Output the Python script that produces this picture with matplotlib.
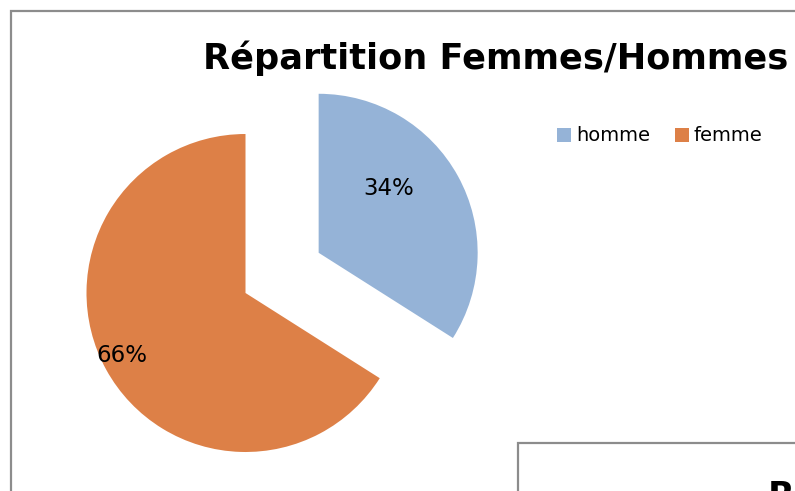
import matplotlib as mpl
mpl.use('Agg')
import matplotlib.pyplot as plt
from matplotlib.patches import Rectangle

# data
categories = ['homme', 'femme']
values = [34, 66]
pct_labels = ['34%', '66%']
colors = ['#95B3D7', '#DD8047']

W, H = 795, 491
fig = plt.figure(figsize=(W/100, H/100), dpi=100)
ax = fig.add_axes([0, 0, 1, 1])

# chart frames (the screenshot shows the Excel chart box and the next one)
ax.add_patch(Rectangle((11, -10), 900, H-11+10, fill=False, ec='#8c8c8c', lw=1.6))
ax.add_patch(Rectangle((518, -10), 400, H-443+10, fill=False, ec='#8c8c8c', lw=1.6))

r = 159
# pie explode is in data units here, not a fraction of the radius
wedges, _ = ax.pie(values, colors=colors, startangle=90, counterclock=False,
				   explode=[0.525*r, 0], center=(245.5, H-293), radius=r,
				   wedgeprops=dict(lw=0))
ax.set_xlim(0, W)
ax.set_ylim(0, H)
ax.set_aspect('equal')
ax.axis('off')

# percentage labels (Excel puts them where it likes)
lab_pos = [(389, H-188), (122, H-356)]
for (x, y), t in zip(lab_pos, pct_labels):
	ax.text(x, y, t, ha='center', va='center', fontsize=16.5, color='black')

ax.text(496, H-58, 'Répartition Femmes/Hommes', ha='center', va='center',
		fontsize=25.3, fontweight='bold', color='black')

# legend
for i, (x, lab) in enumerate(zip([557, 675], categories)):
	ax.add_patch(Rectangle((x, H-142), 14, 14, color=colors[i], lw=0))
	ax.text(x+19, H-135, lab, ha='left', va='center', fontsize=14, color='black')

ax.text(768, H-480, 'R', ha='left', va='top', fontsize=25, fontweight='bold')

fig.savefig('out.png', dpi=100)
